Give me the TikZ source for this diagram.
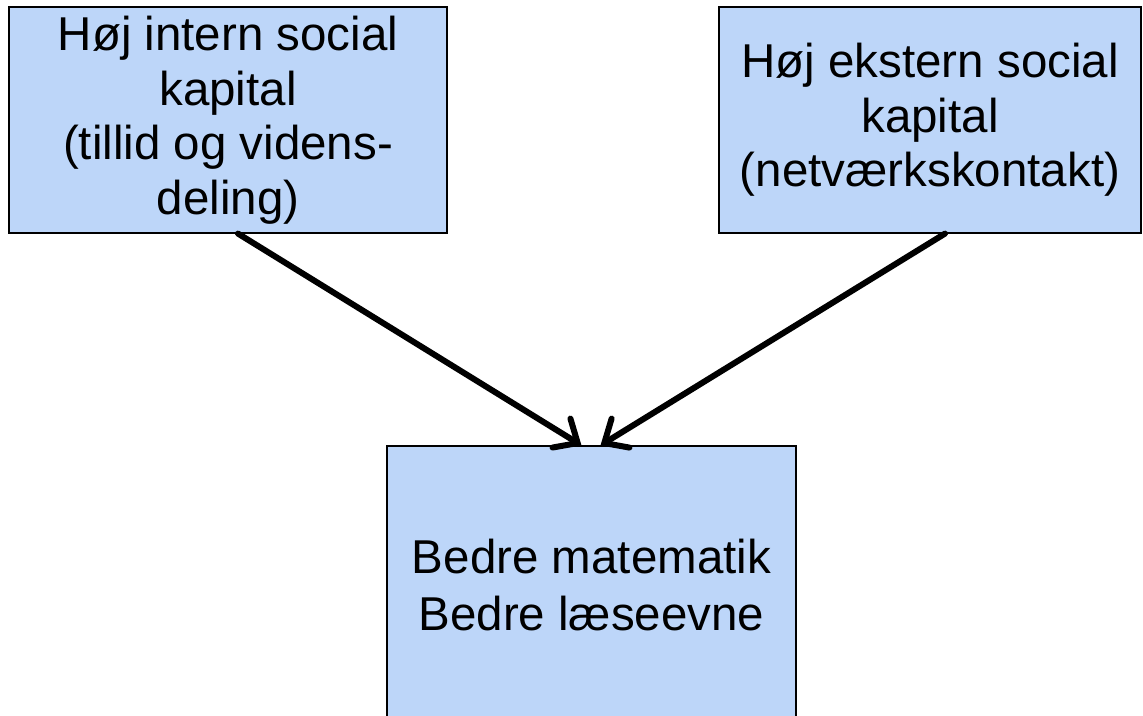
\documentclass[tikz,border=0pt]{standalone}
\usepackage{fontspec}
\setmainfont{Liberation Sans}
\usetikzlibrary{arrows.meta}
\definecolor{boxblue}{RGB}{189,214,249}

\begin{document}
\begin{tikzpicture}[x=1pt,y=-1pt,
    box/.style={draw,fill=boxblue,line width=1.2pt,align=center,
      inner sep=0pt,font=\fontsize{47.5}{54.5}\selectfont},
    link/.style={line width=6pt,line cap=round,
      -{Straight Barb[length=19pt,width=34pt,line cap=round]}}]
    \useasboundingbox (0,0) rectangle (1143,715);
    \node (intern) at (228,120) [box,minimum width=438pt,minimum height=226pt] {Høj intern social\\kapital\\(tillid og videns-\\deling)
    };
    \node (ekstern) at (930,120) [box,minimum width=422pt,minimum height=226pt] {Høj ekstern social\\kapital\\(netværkskontakt)
    };
    \node (bedre) at (591.5,585) [box,minimum width=409pt,minimum height=278pt,
      font=\fontsize{47.5}{57}\selectfont] {Bedre matematik\\Bedre læseevne
    };
    \draw[link] ([xshift=10pt]intern.south) -- ([xshift=-10pt]bedre.north);
    \draw[link] ([xshift=15pt]ekstern.south) -- ([xshift=9pt]bedre.north);
  \end{tikzpicture}
\end{document}
